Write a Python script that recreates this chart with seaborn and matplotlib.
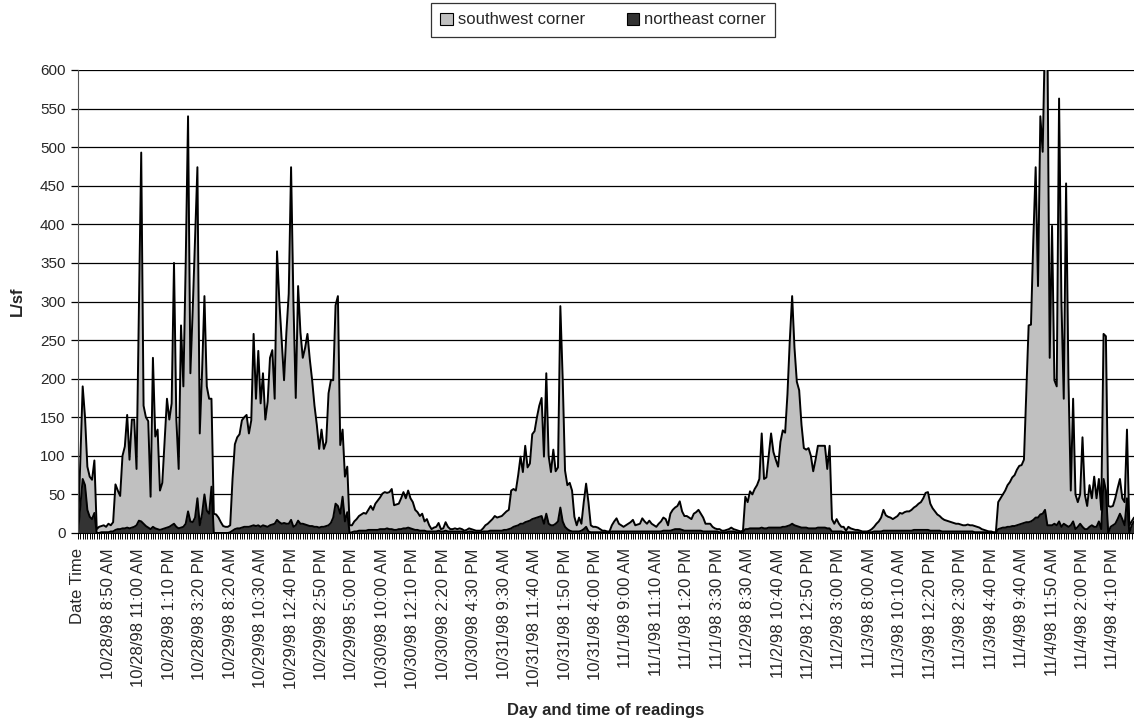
import matplotlib
matplotlib.use("Agg")
import matplotlib.pyplot as plt
from matplotlib.patches import Patch
import numpy as np
import pandas as pd
import seaborn as sns

# label every 13th reading (10 minute readings, daytime only)
tick_labels = [
    "Date Time",
    "10/28/98 8:50 AM", "10/28/98 11:00 AM", "10/28/98 1:10 PM", "10/28/98 3:20 PM",
    "10/29/98 8:20 AM", "10/29/98 10:30 AM", "10/29/98 12:40 PM", "10/29/98 2:50 PM",
    "10/29/98 5:00 PM",
    "10/30/98 10:00 AM", "10/30/98 12:10 PM", "10/30/98 2:20 PM", "10/30/98 4:30 PM",
    "10/31/98 9:30 AM", "10/31/98 11:40 AM", "10/31/98 1:50 PM", "10/31/98 4:00 PM",
    "11/1/98 9:00 AM", "11/1/98 11:10 AM", "11/1/98 1:20 PM", "11/1/98 3:30 PM",
    "11/2/98 8:30 AM", "11/2/98 10:40 AM", "11/2/98 12:50 PM", "11/2/98 3:00 PM",
    "11/3/98 8:00 AM", "11/3/98 10:10 AM", "11/3/98 12:20 PM", "11/3/98 2:30 PM",
    "11/3/98 4:40 PM",
    "11/4/98 9:40 AM", "11/4/98 11:50 AM", "11/4/98 2:00 PM", "11/4/98 4:10 PM",
]
label_step = 13

southwest = [
    0, 95, 190, 150, 86, 73, 69, 94, 5, 8,
    9, 10, 8, 12, 10, 14, 63, 55, 48, 100,
    112, 153, 95, 147, 147, 83, 290, 493, 165, 150,
    145, 47, 227, 125, 134, 55, 65, 120, 174, 147,
    168, 350, 147, 83, 269, 190, 350, 540, 207, 290,
    380, 474, 129, 210, 307, 190, 174, 174, 25, 24,
    20, 14, 9, 8, 8, 10, 70, 115, 124, 128,
    146, 150, 153, 129, 146, 258, 174, 236, 168, 207,
    147, 170, 227, 237, 174, 365, 300, 250, 198, 260,
    310, 474, 300, 175, 320, 260, 227, 240, 258, 225,
    198, 165, 140, 109, 134, 109, 118, 181, 198, 198,
    295, 307, 114, 134, 73, 86, 10, 10, 15, 18,
    22, 24, 26, 25, 30, 35, 30, 38, 42, 46,
    51, 53, 52, 53, 57, 36, 37, 38, 45, 53,
    45, 55, 45, 40, 30, 27, 22, 25, 15, 18,
    10, 5, 7, 8, 13, 5, 6, 14, 8, 5,
    5, 6, 5, 6, 5, 3, 4, 6, 5, 4,
    3, 3, 3, 6, 10, 12, 15, 18, 22, 20,
    21, 22, 25, 28, 30, 55, 57, 55, 75, 99,
    79, 113, 85, 90, 128, 132, 150, 165, 175, 99,
    207, 100, 79, 108, 80, 85, 294, 200, 81, 62,
    65, 55, 21, 10, 20, 12, 40, 64, 40, 10,
    8, 8, 7, 5, 3, 3, 2, 2, 10, 15,
    19, 12, 10, 8, 10, 12, 14, 17, 10, 11,
    12, 19, 15, 12, 16, 12, 10, 8, 12, 15,
    20, 18, 10, 25, 30, 33, 35, 41, 28, 22,
    22, 20, 18, 25, 27, 30, 25, 20, 12, 12,
    12, 8, 6, 5, 5, 3, 3, 4, 5, 7,
    5, 4, 3, 2, 3, 47, 40, 54, 50, 57,
    62, 70, 129, 70, 72, 100, 129, 105, 95, 86,
    118, 133, 130, 180, 250, 307, 240, 196, 185, 140,
    110, 108, 110, 100, 80, 95, 113, 113, 113, 113,
    83, 113, 18, 12, 18, 12, 8, 8, 3, 8,
    6, 5, 4, 4, 3, 2, 2, 2, 3, 5,
    8, 12, 15, 20, 30, 23, 21, 20, 18, 20,
    22, 26, 25, 27, 28, 28, 30, 33, 35, 38,
    40, 45, 52, 53, 38, 32, 28, 24, 22, 19,
    17, 16, 15, 14, 13, 12, 12, 11, 10, 10,
    11, 10, 10, 9, 8, 7, 5, 4, 3, 2,
    2, 1, 1, 40, 45, 50, 55, 62, 66, 72,
    75, 82, 87, 88, 95, 180, 269, 270, 380, 474,
    320, 540, 494, 650, 650, 227, 398, 198, 190, 563,
    300, 174, 453, 200, 55, 174, 50, 40, 50, 124,
    50, 35, 62, 45, 73, 45, 70, 30, 258, 255,
    35, 34, 35, 45, 58, 70, 45, 40, 134, 10,
    15, 20,
]

northeast = [
    0, 35, 70, 62, 30, 21, 18, 26, 0, 0,
    1, 1, 1, 1, 2, 2, 4, 5, 5, 6,
    6, 7, 6, 7, 8, 10, 16, 15, 12, 9,
    7, 5, 8, 6, 5, 4, 5, 6, 7, 8,
    10, 12, 8, 6, 7, 8, 12, 28, 15, 14,
    20, 45, 10, 25, 50, 29, 25, 60, 0, 0,
    0, 0, 0, 0, 0, 1, 3, 5, 6, 6,
    7, 8, 8, 8, 9, 10, 9, 10, 8, 10,
    9, 8, 10, 11, 12, 17, 14, 12, 13, 12,
    12, 17, 8, 10, 16, 12, 12, 11, 10, 9,
    9, 8, 8, 7, 8, 8, 9, 10, 13, 20,
    38, 35, 25, 47, 15, 27, 0, 1, 2, 2,
    3, 3, 3, 3, 4, 4, 4, 4, 4, 5,
    5, 5, 6, 5, 5, 4, 4, 5, 5, 6,
    6, 7, 6, 5, 4, 4, 3, 3, 3, 2,
    2, 2, 2, 2, 3, 2, 2, 3, 2, 2,
    2, 2, 2, 2, 2, 1, 1, 2, 2, 1,
    1, 1, 1, 2, 2, 2, 3, 3, 3, 3,
    3, 3, 4, 4, 5, 6, 8, 9, 10, 12,
    12, 14, 15, 16, 18, 19, 20, 21, 22, 12,
    25, 12, 10, 10, 12, 15, 33, 15, 8, 5,
    3, 2, 2, 2, 2, 3, 5, 8, 2, 1,
    1, 1, 1, 1, 1, 1, 1, 1, 2, 2,
    2, 2, 2, 2, 2, 2, 2, 2, 2, 2,
    2, 2, 2, 2, 2, 2, 2, 2, 2, 2,
    3, 3, 3, 3, 4, 5, 5, 5, 4, 3,
    3, 3, 3, 3, 3, 3, 3, 2, 2, 2,
    2, 2, 2, 2, 1, 1, 1, 1, 2, 2,
    2, 1, 1, 1, 1, 5, 5, 6, 6, 6,
    6, 6, 7, 6, 6, 7, 7, 7, 7, 7,
    7, 8, 8, 9, 10, 12, 10, 9, 8, 7,
    7, 7, 6, 6, 6, 6, 7, 7, 7, 7,
    6, 6, 2, 2, 2, 2, 2, 1, 1, 1,
    1, 1, 1, 1, 1, 1, 1, 1, 1, 1,
    2, 2, 2, 2, 3, 3, 3, 3, 3, 3,
    3, 3, 3, 3, 3, 3, 3, 4, 4, 4,
    4, 4, 4, 4, 3, 3, 3, 3, 3, 2,
    2, 2, 2, 2, 2, 2, 2, 2, 2, 2,
    2, 2, 2, 1, 1, 1, 1, 1, 1, 1,
    1, 0, 0, 5, 6, 7, 7, 8, 8, 9,
    9, 10, 11, 12, 13, 14, 14, 15, 17, 20,
    20, 24, 25, 30, 10, 10, 10, 12, 10, 15,
    8, 12, 10, 8, 10, 15, 5, 8, 12, 8,
    5, 5, 8, 10, 8, 8, 15, 5, 70, 55,
    0, 8, 10, 12, 18, 25, 18, 10, 45, 0,
    10, 15,
]

series_colors = {"southwest corner": "#c0c0c0", "northeast corner": "#333333"}

df = pd.DataFrame({
    "reading": np.arange(len(southwest)),
    "southwest corner": southwest,
    "northeast corner": northeast,
})

sns.set_style("white")
plt.rcParams['font.family'] = ['Liberation Sans', 'DejaVu Sans']

fig, ax = plt.subplots(figsize=(11.34, 7.24), dpi=100)
fig.subplots_adjust(left=78/1134, right=1.0, bottom=1-533/724, top=1-70/724)

# excel style overlapping areas: northeast drawn in front
for k, name in enumerate(["southwest corner", "northeast corner"]):
    ax.fill_between(df["reading"], df[name], color=series_colors[name], lw=0, zorder=2 + 2*k)
    sns.lineplot(data=df, x="reading", y=name, color="black", lw=1.4, ax=ax, zorder=3 + 2*k)

ax.set_xlim(0, len(southwest) - 1)
ax.set_ylim(0, 600)
ax.set_yticks(range(0, 601, 50))
ax.grid(axis="y", color="black", lw=0.9, zorder=1)
ax.grid(axis="x", visible=False)

ax.set_xticks(range(0, len(southwest), label_step))
ax.set_xticklabels(tick_labels, rotation=90, ha="center", va="top")
ax.set_xticks(df["reading"], minor=True)
ax.tick_params(axis="x", which="both", direction="out", length=4, width=0.7,
               color="black", bottom=True, labelsize=12, pad=7)
ax.tick_params(axis="y", direction="out", length=5, width=0.9, color="black",
               left=True, labelsize=11, pad=4)

for side in ["top", "right"]:
    ax.spines[side].set_visible(False)
ax.spines["left"].set_color("#555555")
ax.spines["bottom"].set_color("black")
ax.spines["left"].set_zorder(6)
ax.spines["bottom"].set_zorder(6)

ax.set_xlabel("Day and time of readings", fontsize=12, fontweight="bold")
ax.xaxis.set_label_coords(0.5, -(710 - 533) / 463)
ax.xaxis.label.set_va("center")
ax.set_ylabel("L/sf", fontsize=12, fontweight="bold")
ax.yaxis.set_label_coords((17 - 78) / 1056, 0.5)
ax.yaxis.label.set_va("center")

handles = [Patch(facecolor=series_colors[n], edgecolor="black", lw=0.8, label=n)
           for n in series_colors]
leg = fig.legend(handles=handles, loc="center", bbox_to_anchor=(603/1134, 1 - 20/724),
                 ncol=2, frameon=True, fancybox=False, fontsize=12,
                 handlelength=0.75, handleheight=0.75, handletextpad=0.3,
                 columnspacing=2.5, borderpad=0.55, borderaxespad=0)
leg.get_frame().set_edgecolor("black")
leg.get_frame().set_linewidth(0.9)

fig.savefig("out.png", dpi=100)
